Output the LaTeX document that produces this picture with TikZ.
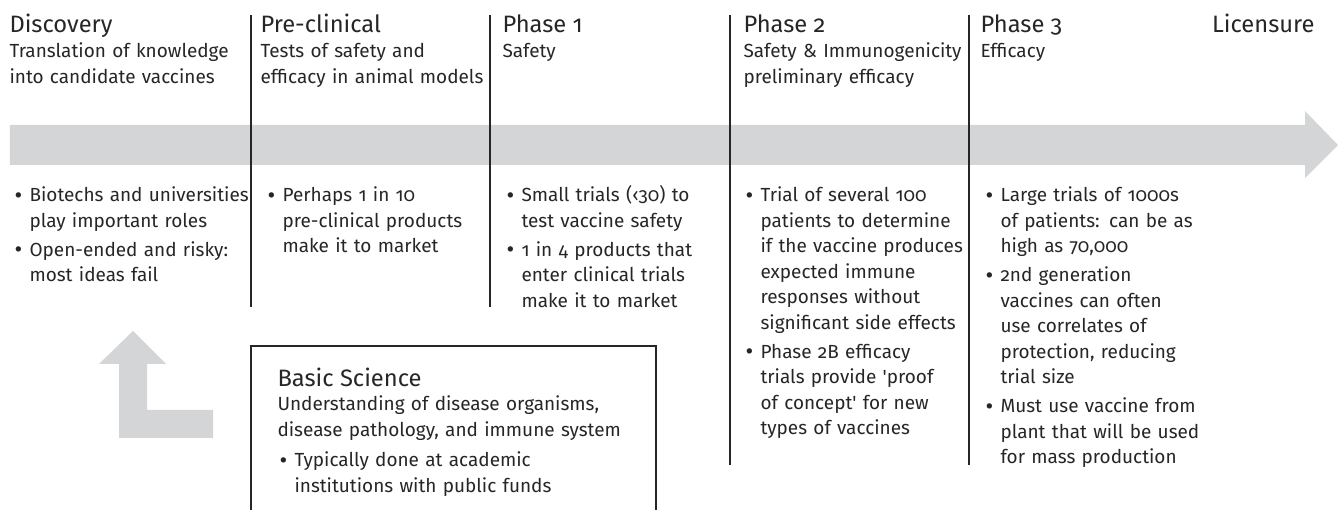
\documentclass[tikz,border=0pt]{standalone}
\usepackage{fontspec}
\setmainfont{Fira Sans}[Numbers=OldStyle]
\usepackage{xcolor}
\definecolor{ink}{HTML}{262626}
\definecolor{band}{HTML}{D4D5D7}
\newlength{\bulind}
\setlength{\bulind}{0.3cm}
\def\bul#1{\hangindent=\bulind\hangafter=1\noindent\hbox to\bulind{\fontsize{13.5}{15}\selectfont\raisebox{-0.7pt}{\textbullet}\hfil}#1\par}
\def\nbul#1{\vspace{2pt}\bul{#1}}
\begin{document}
\begin{tikzpicture}[ink,line width=0.6pt,
	stage/.style={anchor=base west,inner sep=0pt,font=\fontsize{13.5}{15}\selectfont},
	about/.style={anchor=base west,inner sep=0pt,text width=#1,align=left,font=\fontsize{10.8}{14.5}\selectfont},
	facts/.style={about=#1}]
	\useasboundingbox (0,0) rectangle (26.82,-10.2);
	\fill [band] (0.2,-2.5) -- (26.1,-2.5) -- (26.1,-2.22) -- (26.76,-2.9) -- (26.1,-3.56) -- (26.1,-3.3) -- (0.2,-3.3) -- cycle;
	\fill [band] (2.66,-6.62) -- (3.32,-7.28) -- (2.94,-7.28) -- (2.94,-8.2) -- (4.26,-8.2) -- (4.26,-8.76) -- (2.38,-8.76) -- (2.38,-7.28) -- (1.98,-7.28) -- cycle;
	\draw (5.02,-0.3) -- (5.02,-6.14);
	\draw (9.8,-0.3) -- (9.8,-6.14);
	\draw (14.6,-0.3) -- (14.6,-9.3);
	\draw (19.38,-0.3) -- (19.38,-9.3);
	\draw (5.02,-10.2) -- (5.02,-6.92) -- (13.12,-6.92) -- (13.12,-10.2);
	\node (disc) at (0.18,-0.66) [stage] {Discovery};
	\node (prec) at (5.2,-0.66) [stage] {Pre-clinical};
	\node (ph1) at (10.04,-0.66) [stage] {Phase 1};
	\node (ph2) at (14.86,-0.66) [stage] {Phase 2};
	\node (ph3) at (19.6,-0.66) [stage] {Phase 3};
	\node (lic) at (26.3,-0.66) [stage,anchor=base east] {Licensure};
	\node (disc-a) at (0.18,-1.16) [about=5cm] {Translation of knowledge\\into candidate vaccines};
	\node (prec-a) at (5.2,-1.16) [about=5cm] {Tests of safety and\\efficacy in animal models};
	\node (ph1-a) at (10.04,-1.16) [about=5cm] {Safety};
	\node (ph2-a) at (14.86,-1.16) [about=5cm] {Safety \& Immunogenicity\\preliminary efficacy};
	\node (ph3-a) at (19.6,-1.16) [about=5cm] {Efficacy};
	\node (disc-f) at (0.28,-4.04) [facts=5cm] {\bul{Biotechs and universities\newline play important roles}
		\nbul{Open-ended and risky:\newline most ideas fail}};
	\node (prec-f) at (5.34,-4.04) [facts=5cm] {\bul{Perhaps 1 in 10\newline pre-clinical products\newline make it to market}};
	\node (ph1-f) at (10.12,-4.04) [facts=5cm] {\bul{Small trials (‹30) to\newline test vaccine safety}
		\nbul{1 in 4 products that\newline enter clinical trials\newline make it to market}};
	\node (ph2-f) at (14.9,-4.04) [facts=5cm] {\bul{Trial of several 100\newline patients to determine\newline if the vaccine produces\newline expected immune\newline responses without\newline significant side effects}
		\nbul{Phase 2B efficacy\newline trials provide \textquotesingle proof\newline of concept\textquotesingle{} for new\newline types of vaccines}};
	\node (ph3-f) at (19.7,-4.04) [facts=5cm] {\bul{Large trials of 1000s\newline of patients: can be as\newline high as 70,000}
		\nbul{2nd generation\newline vaccines can often\newline use correlates of\newline protection, reducing\newline trial size}
		\nbul{Must use vaccine from\newline plant that will be used\newline for mass production}};
	\node (basic) at (5.54,-7.74) [stage] {Basic Science};
	\node (basic-a) at (5.54,-8.22) [about=7.5cm] {Understanding of disease organisms,\\disease pathology, and immune system};
	\node (basic-f) at (5.58,-9.34) [facts=7.5cm] {\bul{Typically done at academic\newline institutions with public funds}};
\end{tikzpicture}
\end{document}
